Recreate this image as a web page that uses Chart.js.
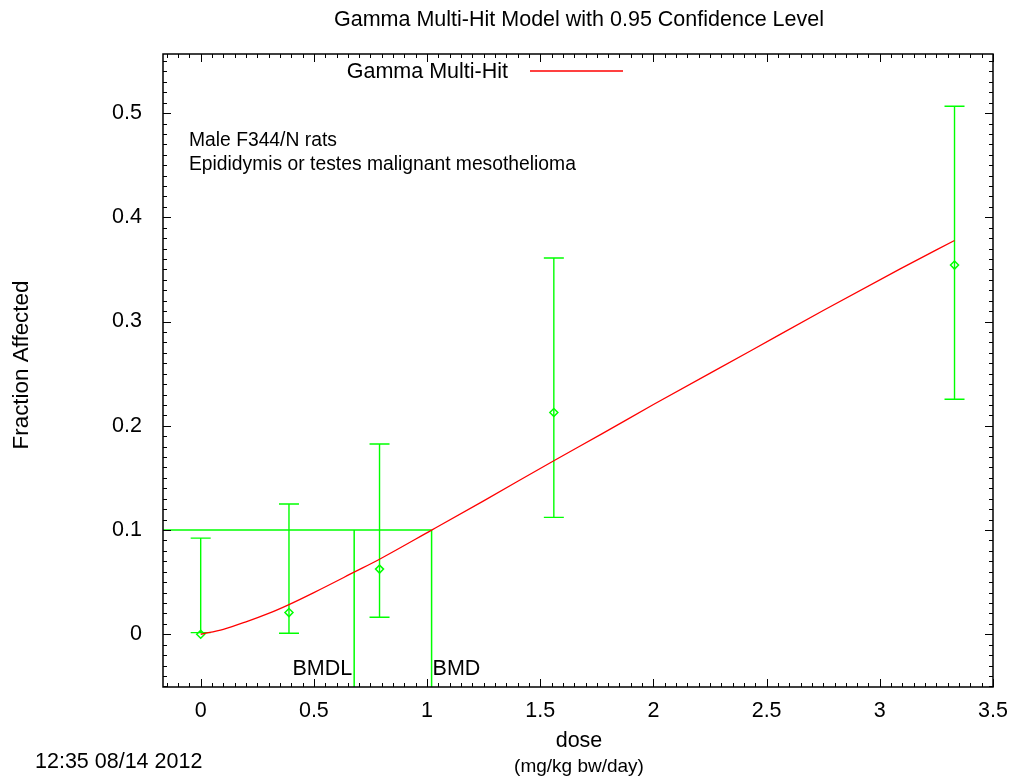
<!DOCTYPE html>
<html>
<head>
<meta charset="utf-8">
<title>Gamma Multi-Hit Model</title>
<script src="https://cdn.jsdelivr.net/npm/chart.js@4.4.0/dist/chart.umd.min.js"></script>
<style>
  body { margin: 0; background: #fff; }
  #wrap { width: 1013px; height: 778px; }
</style>
</head>
<body>
<div id="wrap"><canvas id="my-chart"></canvas></div>
<script>
// observed fraction affected with 95% confidence limits
const doses = [0, 0.39, 0.79, 1.56, 3.33];
const fractionAffected = [0, 0.0208, 0.0625, 0.2128, 0.3542];
const lowerLimit = [0.0016, 0.001, 0.0163, 0.1121, 0.2255];
const upperLimit = [0.0922, 0.1249, 0.1825, 0.361, 0.5065];

// fitted Gamma Multi-Hit curve
const curveDoses = [0, 0.1, 0.2, 0.3, 0.39, 0.5, 0.68, 0.79, 1.02, 1.25, 1.56, 1.77, 2.0, 2.43, 2.75, 3.09, 3.33];
const curveValues = [0, 0.0048, 0.0119, 0.02, 0.0285, 0.04, 0.0598, 0.072, 0.0999, 0.128, 0.1665, 0.192, 0.2204, 0.272, 0.3106, 0.3505, 0.3778];

const bmr = 0.1;
const bmd = 1.02;
const bmdl = 0.678;

const xTicks = [0, 0.5, 1, 1.5, 2, 2.5, 3, 3.5];
const yTicks = [0, 0.1, 0.2, 0.3, 0.4, 0.5];
const xMin = -0.1665, xMax = 3.5;
const yMin = -0.0506, yMax = 0.5567;

const FONT = "'Liberation Sans', Arial, sans-serif";
const GREEN = '#00ff00';
const RED = '#ff0000';

// error bars, drawn under the diamonds
const errorBars = {
  id: 'errorBars',
  beforeDatasetsDraw(chart) {
    const {ctx, scales: {x, y}} = chart;
    ctx.save();
    ctx.strokeStyle = GREEN;
    ctx.lineWidth = 1.4;
    doses.forEach((d, i) => {
      const px = x.getPixelForValue(d);
      const top = y.getPixelForValue(upperLimit[i]);
      const bot = y.getPixelForValue(lowerLimit[i]);
      ctx.beginPath();
      ctx.moveTo(px, top); ctx.lineTo(px, bot);
      ctx.moveTo(px - 10, top); ctx.lineTo(px + 10, top);
      ctx.moveTo(px - 10, bot); ctx.lineTo(px + 10, bot);
      ctx.stroke();
    });
    ctx.restore();
  }
};

// gnuplot style frame with inward ticks on all sides, plus the texts
const frame = {
  id: 'frame',
  afterDraw(chart) {
    const {ctx, chartArea: a, scales: {x, y}} = chart;
    ctx.save();
    ctx.strokeStyle = '#000';
    ctx.lineWidth = 1;
    ctx.beginPath();
    for (let i = -3; i <= 70; i++) {
      const v = i / 20;
      if (v < xMin || v > xMax) continue;
      const px = Math.round(x.getPixelForValue(v)) + 0.5;
      const len = i % 10 === 0 ? 8 : 4;
      ctx.moveTo(px, a.bottom); ctx.lineTo(px, a.bottom - len);
      ctx.moveTo(px, a.top); ctx.lineTo(px, a.top + len);
    }
    for (let i = -5; i <= 55; i++) {
      const v = i / 100;
      if (v < yMin || v > yMax) continue;
      const py = Math.round(y.getPixelForValue(v)) + 0.5;
      const len = i % 10 === 0 ? 8 : 4;
      ctx.moveTo(a.left, py); ctx.lineTo(a.left + len, py);
      ctx.moveTo(a.right, py); ctx.lineTo(a.right - len, py);
    }
    ctx.stroke();
    ctx.lineWidth = 1.5;
    ctx.strokeRect(a.left, a.top, a.right - a.left, a.bottom - a.top);

    ctx.fillStyle = '#000';
    ctx.textBaseline = 'middle';
    ctx.textAlign = 'center';
    ctx.font = '21.5px ' + FONT;
    ctx.fillText('Gamma Multi-Hit Model with 0.95 Confidence Level', 579, 20);
    ctx.fillText('dose', 579, 741);
    ctx.font = '19px ' + FONT;
    ctx.fillText('(mg/kg bw/day)', 579, 767);
    ctx.font = '21.5px ' + FONT;
    ctx.textAlign = 'left';
    ctx.fillText('12:35 08/14 2012', 35, 762);

    // legend
    ctx.textAlign = 'right';
    ctx.fillText('Gamma Multi-Hit', 508, 72);
    ctx.strokeStyle = RED;
    ctx.lineWidth = 1.3;
    ctx.beginPath();
    ctx.moveTo(530, 71); ctx.lineTo(623, 71);
    ctx.stroke();

    // annotation
    ctx.font = '19.3px ' + FONT;
    ctx.textAlign = 'left';
    ctx.fillText('Male F344/N rats', 189, 141);
    ctx.fillText('Epididymis or testes malignant mesothelioma', 189, 165);

    // BMD / BMDL labels
    ctx.font = '21.5px ' + FONT;
    ctx.textAlign = 'right';
    ctx.fillText('BMDL', x.getPixelForValue(bmdl) - 2, 669);
    ctx.textAlign = 'left';
    ctx.fillText('BMD', x.getPixelForValue(bmd) + 1, 669);

    // y title
    ctx.translate(22, 365);
    ctx.rotate(-Math.PI / 2);
    ctx.textAlign = 'center';
    ctx.font = '22.4px ' + FONT;
    ctx.fillText('Fraction Affected', 0, 0);
    ctx.restore();
  }
};

const ctx = document.getElementById('my-chart').getContext('2d');

const chart = new Chart(ctx, {
  type: 'scatter',
  data: {
    datasets: [
      {
        label: 'Gamma Multi-Hit',
        type: 'line',
        data: curveDoses.map((d, i) => ({x: d, y: curveValues[i]})),
        borderColor: RED,
        borderWidth: 1.3,
        pointRadius: 0,
        cubicInterpolationMode: 'monotone',
        fill: false
      },
      {
        label: 'Data',
        data: doses.map((d, i) => ({x: d, y: fractionAffected[i]})),
        pointStyle: 'rectRot',
        pointRadius: 4,
        borderColor: GREEN,
        backgroundColor: 'rgba(0,0,0,0)',
        borderWidth: 1.5
      },
      {
        label: 'BMR',
        type: 'line',
        data: [{x: xMin, y: bmr}, {x: bmd, y: bmr}],
        borderColor: GREEN, borderWidth: 1.5, pointRadius: 0
      },
      {
        label: 'BMDL',
        type: 'line',
        data: [{x: bmdl, y: bmr}, {x: bmdl, y: yMin}],
        borderColor: GREEN, borderWidth: 1.5, pointRadius: 0
      },
      {
        label: 'BMD',
        type: 'line',
        data: [{x: bmd, y: bmr}, {x: bmd, y: yMin}],
        borderColor: GREEN, borderWidth: 1.5, pointRadius: 0
      }
    ]
  },
  options: {
    responsive: true,
    maintainAspectRatio: false,
    animation: false,
    layout: { padding: { top: 54, right: 20, left: 0, bottom: 0 } },
    plugins: {
      legend: { display: false },
      title: { display: false },
      tooltip: { enabled: false }
    },
    scales: {
      x: {
        type: 'linear',
        min: xMin,
        max: xMax,
        grid: { display: false },
        border: { display: false },
        afterBuildTicks: s => { s.ticks = xTicks.map(v => ({value: v})); },
        afterFit: s => { s.height = 91; s.paddingLeft = 0; s.paddingRight = 0; },
        ticks: {
          color: '#000',
          padding: 3,
          font: { family: FONT, size: 21.5 },
          callback: v => String(v)
        }
      },
      y: {
        type: 'linear',
        min: yMin,
        max: yMax,
        grid: { display: false },
        border: { display: false },
        afterBuildTicks: s => { s.ticks = yTicks.map(v => ({value: v})); },
        afterFit: s => { s.width = 163; s.paddingTop = 0; s.paddingBottom = 0; },
        ticks: {
          color: '#000',
          padding: 13,
          font: { family: FONT, size: 21.5 },
          callback: v => String(v)
        }
      }
    }
  },
  plugins: [errorBars, frame]
}); // closes new Chart()
</script>
</body>
</html>
